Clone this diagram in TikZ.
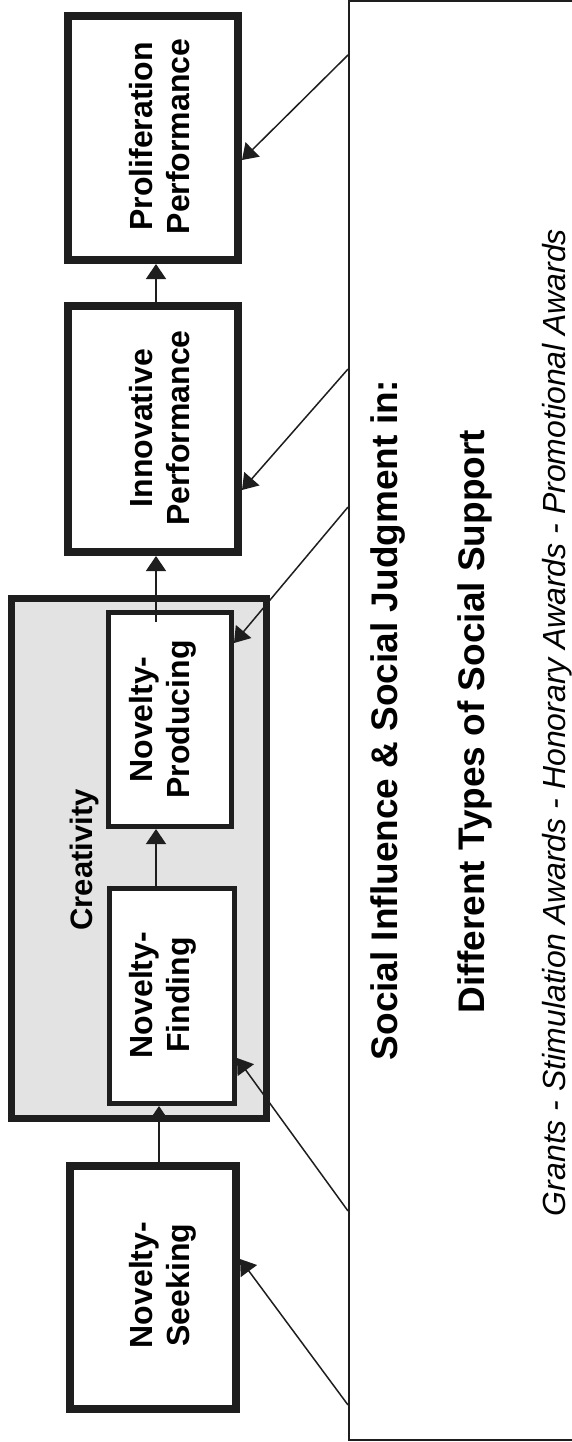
\documentclass[tikz,border=0pt]{standalone}
\usepackage{fontspec}
\setmainfont{Liberation Sans}
\usetikzlibrary{arrows.meta}
\definecolor{ink}{HTML}{1E1E1E}
\definecolor{panel}{HTML}{E3E3E3}

\begin{document}
\begin{tikzpicture}[x=1pt,y=1pt,
  stage/.style={draw=ink, fill=white, line width=8pt, inner sep=0pt},
  substage/.style={draw=ink, fill=white, line width=5pt, inner sep=0pt},
  group/.style={draw=ink, fill=panel, line width=7pt, inner sep=0pt},
  frame/.style={draw=ink, line width=1.5pt, inner sep=0pt},
  lbl/.style={rotate=90, inner sep=0pt, align=center,
    font=\bfseries\fontsize{32}{37}\selectfont},
  arr/.style={draw=ink, line width=1.5pt, -{Triangle[length=15pt,width=20pt]}}]

\useasboundingbox (0,0) rectangle (572,-1442);
\clip (0,0) rectangle (572,-1442);

% outer frame on the right (its right side runs past the page)
\node[frame, minimum width=271.25pt, minimum height=1439pt] (big) at (484.4,-720.5) {};

% chain of stages
\node[stage, minimum width=170pt, minimum height=244pt] (prolif) at (153,-138) {};
\node[stage, minimum width=170pt, minimum height=246pt] (innov) at (153,-429) {};
\node[group, minimum width=255pt, minimum height=520pt] (creat) at (139,-858.5) {};
\node[substage, minimum width=123pt, minimum height=214pt] (prod) at (170,-719.5) {};
\node[substage, minimum width=125pt, minimum height=215pt] (find) at (172,-996) {};
\node[stage, minimum width=166pt, minimum height=243pt] (seek) at (153,-1287.5) {};

% stage labels
\node[lbl] (t-prolif) at (159.8,-136.5) {Proliferation\\Performance};
\node[lbl] (t-innov) at (159.8,-428) {Innovative\\Performance};
\node[lbl] (t-prod) at (163.2,-719.5) {Novelty-\\Producing};
\node[lbl] (t-find) at (163.2,-995) {Novelty-\\Finding};
\node[lbl] (t-seek) at (163.2,-1285) {Novelty-\\Seeking};
\node[rotate=90, inner sep=0pt, font=\bfseries\fontsize{31}{36}\selectfont]
  (t-creat) at (84.8,-860) {Creativity};

% frame texts
\node[rotate=90, inner sep=0pt, font=\bfseries\fontsize{37}{44}\selectfont]
  (t-social) at (388.5,-720) {Social Influence \& Social Judgment in:};
\node[rotate=90, inner sep=0pt, font=\bfseries\fontsize{37}{44}\selectfont]
  (t-types) at (475.4,-721.5) {Different Types of Social Support};
\node[rotate=90, inner sep=0pt, font=\itshape\fontsize{32}{38}\selectfont]
  (t-grants) at (557.7,-722.5) {Grants - Stimulation Awards - Honorary Awards - Promotional Awards};

% flow along the chain
\draw[arr] ([xshift=6pt,yshift=-8pt]seek.north) -- ([xshift=6pt]seek.north |- find.south);
\draw[arr] ([xshift=-16pt]find.north) -- ([xshift=-16pt]find.north |- prod.south);
\draw[arr] ([xshift=-14pt,yshift=-12pt]prod.north) -- ([xshift=-14pt]prod.north |- innov.south);
\draw[arr] ([xshift=3pt]innov.north) -- ([xshift=3pt]innov.north |- prolif.south);

% influence of the frame on each stage
\draw[arr] (big.west |- 0,-55) -- (prolif.east |- 0,-160);
\draw[arr] (big.west |- 0,-369) -- (innov.east |- 0,-490);
\draw[arr] (big.west |- 0,-507) -- (prod.east |- 0,-643);
\draw[arr] (big.west |- 0,-1211) -- (find.east |- 0,-1058);
\draw[arr] (big.west |- 0,-1405) -- (seek.east |- 0,-1259);
\end{tikzpicture}
\end{document}
